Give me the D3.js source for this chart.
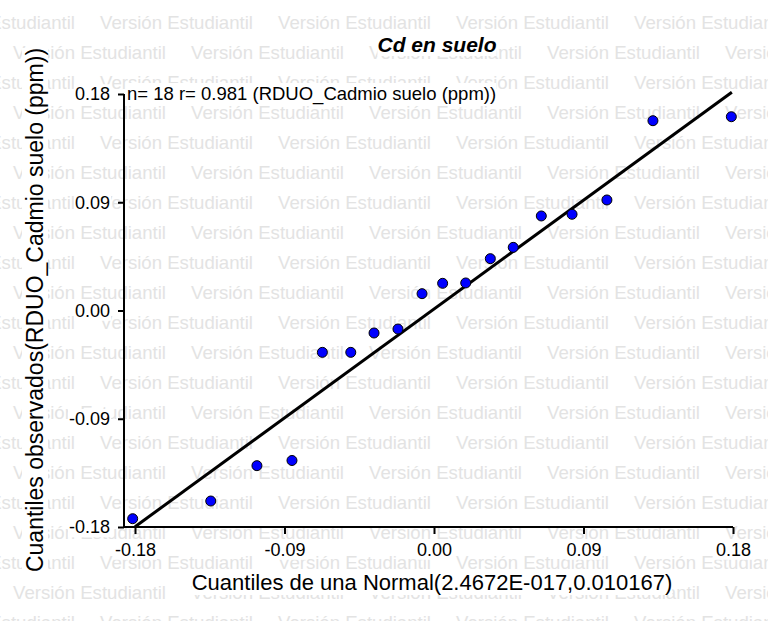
<!DOCTYPE html>
<html><head><meta charset="utf-8">
<script src="https://cdn.jsdelivr.net/npm/d3@7"></script>
<style>body{margin:0;background:#fff}</style>
</head><body><svg id="c" width="768" height="621"></svg>
<script>
const chartTitle = "Cd en suelo";
const subtitle = "n= 18 r= 0.981 (RDUO_Cadmio suelo (ppm))";
const xTitle = "Cuantiles de una Normal(2.4672E-017,0.010167)";
const yTitle = "Cuantiles observados(RDUO_Cadmio suelo (ppm))";
const watermark = "Versión Estudiantil";
const xTicks = [-0.18, -0.09, 0.00, 0.09, 0.18];
const yTicks = [-0.18, -0.09, 0.00, 0.09, 0.18];
const normalQuantiles = [-0.1814, -0.1344, -0.1066, -0.0855, -0.0672, -0.0501, -0.0361, -0.0217, -0.0072,
                          0.0052, 0.0191, 0.0339, 0.0477, 0.0646, 0.0831, 0.1041, 0.1318, 0.1790];
const observedQuantiles = [-0.1731, -0.1584, -0.1290, -0.1247, -0.0348, -0.0348, -0.0187, -0.0154, 0.0140,
                            0.0226, 0.0229, 0.0431, 0.0525, 0.0786, 0.0800, 0.0919, 0.1578, 0.1611];
const fitX = [-0.18, 0.1793];
const fitY = [-0.1798, 0.1815];

const FONT = "'Liberation Sans', Arial, sans-serif";
const svg = d3.select("#c");
svg.append("rect").attr("width", 768).attr("height", 621).attr("fill", "#fff");

// watermark
const wm = svg.append("g").attr("fill", "#e3e3e3").style("font", `18.6px ${FONT}`);
for (let k = 0; k < 21; k++) {
  const cy = 22 + 30 * k;
  const off = k % 2 === 0 ? -78 : 13;
  for (let j = 0; j < 6; j++) {
    wm.append("text").attr("x", off + j * 178).attr("y", cy).attr("dy", "0.35em").text(watermark);
  }
}

const x = d3.scaleLinear().domain([-0.18, 0.18]).range([135, 733]);
const y = d3.scaleLinear().domain([-0.18, 0.18]).range([527, 94]);
const yAxisX = 124;
const fmt = d => d3.format(".2f")(d).replace("−", "-");

function whiteBg(sel, pad) {
  sel.each(function () {
    const b = this.getBBox();
    d3.select(this.parentNode).insert("rect", () => this)
      .attr("x", b.x - pad).attr("y", b.y).attr("width", b.width + 2 * pad).attr("height", b.height)
      .attr("fill", "#fff");
  });
}

// y axis
const gy = svg.append("g").attr("transform", `translate(${yAxisX},0)`)
  .call(d3.axisLeft(y).tickValues(yTicks).tickSize(6).tickPadding(8).tickSizeOuter(0).tickFormat(fmt));
gy.attr("font-size", null).attr("font-family", null);
gy.select(".domain").remove();
gy.selectAll("line").attr("stroke", "#000").attr("stroke-width", 2);
gy.selectAll("text").style("font", `18px ${FONT}`).attr("fill", "#000");
whiteBg(gy.selectAll("text"), 1);

// x axis
const gx = svg.append("g").attr("transform", `translate(0,${y(-0.18)})`)
  .call(d3.axisBottom(x).tickValues(xTicks).tickSize(7).tickPadding(9).tickSizeOuter(0).tickFormat(fmt));
gx.attr("font-size", null).attr("font-family", null);
gx.select(".domain").remove();
gx.selectAll("line").attr("stroke", "#000").attr("stroke-width", 2);
gx.selectAll("text").style("font", `18px ${FONT}`).attr("fill", "#000");
whiteBg(gx.selectAll("text"), 1);

// axis lines
svg.append("line").attr("x1", yAxisX).attr("x2", yAxisX).attr("y1", y(0.18)).attr("y2", y(-0.18))
  .attr("stroke", "#000").attr("stroke-width", 2);
svg.append("line").attr("x1", yAxisX).attr("x2", x(0.18)).attr("y1", y(-0.18)).attr("y2", y(-0.18))
  .attr("stroke", "#000").attr("stroke-width", 2);

// fitted line
svg.append("path").datum(fitX.map((v, i) => [v, fitY[i]]))
  .attr("d", d3.line().x(d => x(d[0])).y(d => y(d[1])))
  .attr("stroke", "#000").attr("stroke-width", 3).attr("fill", "none");

// points
svg.append("g").selectAll("circle").data(normalQuantiles.map((v, i) => [v, observedQuantiles[i]]))
  .join("circle").attr("cx", d => x(d[0])).attr("cy", d => y(d[1])).attr("r", 5)
  .attr("fill", "#0000ff").attr("stroke", "#000").attr("stroke-width", 1);

// texts
const tg = svg.append("g").attr("fill", "#000");
const t1 = tg.append("text").attr("x", 437).attr("y", 52).attr("text-anchor", "middle")
  .style("font", `italic bold 21px ${FONT}`).text(chartTitle);
const t2 = tg.append("text").attr("x", 127).attr("y", 100)
  .style("font", `18.5px ${FONT}`).text(subtitle);
const t3 = tg.append("text").attr("x", 432).attr("y", 590).attr("text-anchor", "middle")
  .style("font", `22px ${FONT}`).text(xTitle);
const yg = svg.append("g").attr("transform", "translate(43,310) rotate(-90)");
const t4 = yg.append("text").attr("x", 0).attr("y", 0).attr("text-anchor", "middle")
  .style("font", `23px ${FONT}`).text(yTitle);
[t1, t2, t3, t4].forEach(t => whiteBg(t, 0));
</script></body></html>
